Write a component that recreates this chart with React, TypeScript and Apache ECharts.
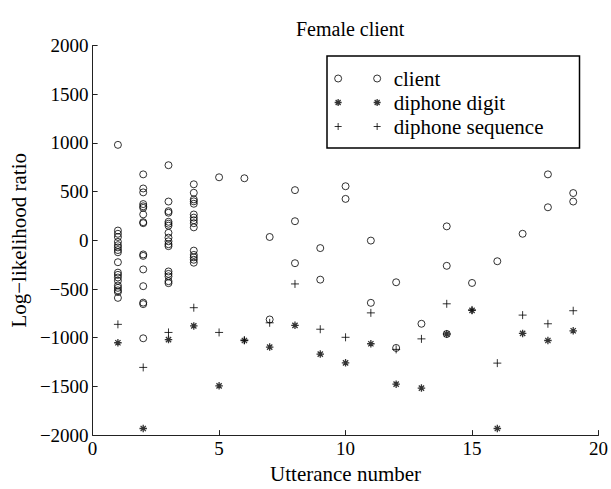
import React, { useEffect, useRef } from "react";
import * as echarts from "echarts";

const utterances = [1, 2, 3, 4, 5, 6, 7, 8, 9, 10, 11, 12, 13, 14, 15, 16, 17, 18, 19];

const clientScores: number[][] = [
  [980, 100, 67, 34, -16, -50, -73, -100, -123, -225, -332, -355, -382, -415, -464, -488, -514, -531, -591],
  [677, 532, 492, 372, 349, 333, 266, 186, 176, -145, -160, -299, -471, -640, -655, -1006],
  [771, 398, 299, 283, 190, 170, 150, 77, 27, -10, -40, -60, -320, -345, -370, -420, -440],
  [575, 488, 420, 400, 375, 265, 233, 206, 176, 133, -106, -150, -175, -200, -230],
  [647],
  [637],
  [34, -813],
  [515, 196, -235],
  [-80, -404],
  [555, 425],
  [-3, -642],
  [-431, -1105],
  [-857],
  [143, -262, -962],
  [-438],
  [-215],
  [67],
  [677, 339],
  [485, 398],
];

const diphoneDigit = [-1052, -1932, -1019, -879, -1494, -1029, -1096, -873, -1168, -1258, -1062, -1477, -1517, -962, -720, -1932, -956, -1029, -929];

const diphoneSequence = [-863, -1305, -946, -692, -946, -1025, -847, -448, -913, -996, -745, -1120, -1012, -652, -715, -1261, -768, -857, -723];

const xTicks = { min: 0, max: 20, interval: 5 };
const yTicks = { min: -2000, max: 2000, interval: 500 };

const seriesNames = ["client", "diphone digit", "diphone sequence"];

const FONT = "Liberation Serif";

const PLUS = "path://M5,0L5,10M0,5L10,5";
const STAR = "path://M5,0L5,10M0,5L10,5M1.5,1.5L8.5,8.5M1.5,8.5L8.5,1.5";
const CIRCLE = "path://M0,5a5,5 0 1,0 10,0a5,5 0 1,0 -10,0Z";

const LEG_CIRCLE = "path://M0,3.5a3.5,3.5 0 1,0 7,0a3.5,3.5 0 1,0 -7,0ZM39,3.5a3.5,3.5 0 1,0 7,0a3.5,3.5 0 1,0 -7,0Z";
const LEG_STAR = "path://M3.5,0L3.5,7M0,3.5L7,3.5M1,1L6,6M1,6L6,1M42.5,0L42.5,7M39,3.5L46,3.5M40,1L45,6M40,6L45,1";
const LEG_PLUS = "path://M3.5,0L3.5,7M0,3.5L7,3.5M42.5,0L42.5,7M39,3.5L46,3.5";

export default function App() {
  const ref = useRef<HTMLDivElement>(null);
  useEffect(() => {
    if (!ref.current) return;
    const chart = echarts.init(ref.current, undefined, { renderer: "svg" });

    const clientData: number[][] = [];
    utterances.forEach((u, i) => {
      clientScores[i].forEach((v) => clientData.push([u, v]));
    });
    const digitData = utterances.map((u, i) => [u, diphoneDigit[i]]);
    const seqData = utterances.map((u, i) => [u, diphoneSequence[i]]);

    const strokeStyle = { color: "transparent", borderColor: "#000", borderWidth: 1 };
    const starStyle = { color: "transparent", borderColor: "#000", borderWidth: 1.3 };

    chart.setOption({
      animation: false,
      backgroundColor: "#fff",
      textStyle: { fontFamily: FONT, color: "#000" },
      title: {
        text: "Female client",
        left: 296,
        top: 19,
        padding: 0,
        textStyle: { fontFamily: FONT, fontSize: 20, fontWeight: "normal", color: "#000" },
      },
      grid: { left: 89.5, right: 12.5, top: 45.5, bottom: 42.5, containLabel: false },
      legend: {
        orient: "vertical",
        left: 327,
        top: 56,
        padding: [12, 36, 11, 7],
        itemGap: 3,
        itemWidth: 46,
        itemHeight: 7,
        borderColor: "#000",
        borderWidth: 1.5,
        borderRadius: 0,
        backgroundColor: "#fff",
        textStyle: { fontFamily: FONT, fontSize: 21, color: "#000", padding: [0, 0, 0, 8] },
        data: [
          { name: seriesNames[0], icon: LEG_CIRCLE, itemStyle: strokeStyle },
          { name: seriesNames[1], icon: LEG_STAR, itemStyle: starStyle },
          { name: seriesNames[2], icon: LEG_PLUS, itemStyle: strokeStyle },
        ],
      },
      xAxis: {
        type: "value",
        min: xTicks.min,
        max: xTicks.max,
        interval: xTicks.interval,
        name: "Utterance number",
        nameLocation: "middle",
        nameGap: 20,
        nameTextStyle: { fontFamily: FONT, fontSize: 21, color: "#000" },
        axisLine: { onZero: false, lineStyle: { color: "#222", width: 1 } },
        axisTick: { inside: true, length: 5, lineStyle: { color: "#222" } },
        axisLabel: { fontFamily: FONT, fontSize: 19, color: "#000", margin: 4 },
        splitLine: { show: false },
      },
      yAxis: {
        type: "value",
        min: yTicks.min,
        max: yTicks.max,
        interval: yTicks.interval,
        name: "Log\u2212likelihood ratio",
        nameLocation: "middle",
        nameGap: 56,
        nameTextStyle: { fontFamily: FONT, fontSize: 21, color: "#000" },
        axisLine: { onZero: false, lineStyle: { color: "#222", width: 1 } },
        axisTick: { inside: true, length: 5, lineStyle: { color: "#222" } },
        axisLabel: {
          fontFamily: FONT,
          fontSize: 19,
          color: "#000",
          margin: 4,
          formatter: (v: number) => (v < 0 ? "\u2212" + Math.abs(v) : String(v)),
        },
        splitLine: { show: false },
      },
      series: [
        {
          name: seriesNames[0],
          type: "scatter",
          data: clientData,
          symbol: CIRCLE,
          symbolSize: 7,
          itemStyle: strokeStyle,
        },
        {
          name: seriesNames[1],
          type: "scatter",
          data: digitData,
          symbol: STAR,
          symbolSize: 7.5,
          itemStyle: starStyle,
        },
        {
          name: seriesNames[2],
          type: "scatter",
          data: seqData,
          symbol: PLUS,
          symbolSize: 8,
          itemStyle: strokeStyle,
        },
      ],
    });
    return () => chart.dispose();
  }, []);
  return (
    <div
      ref={ref}
      style={{ position: "fixed", left: 0, top: 0, width: 611, height: 489, background: "#fff" }}
    />
  );
}
